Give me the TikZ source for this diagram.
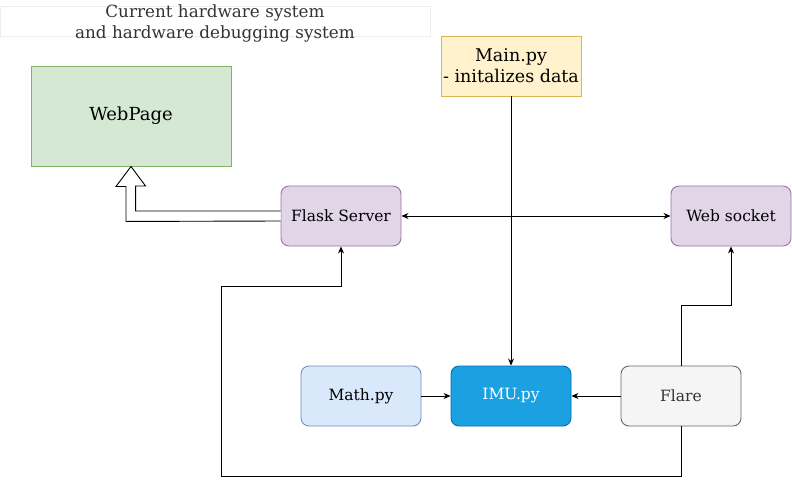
\documentclass[tikz,border=0pt]{standalone}
\usepackage{fontspec}
\setmainfont{DejaVu Serif}
\usetikzlibrary{arrows.meta}

\definecolor{greenfill}{HTML}{D5E8D4}
\definecolor{greenline}{HTML}{82B366}
\definecolor{yellowfill}{HTML}{FFF2CC}
\definecolor{yellowline}{HTML}{D6B656}
\definecolor{purplefill}{HTML}{E1D5E7}
\definecolor{purpleline}{HTML}{9673A6}
\definecolor{bluefill}{HTML}{DAE8FC}
\definecolor{blueline}{HTML}{6C8EBF}
\definecolor{imufill}{HTML}{1BA1E2}
\definecolor{imuline}{HTML}{006EAF}
\definecolor{greyfill}{HTML}{F5F5F5}
\definecolor{greyline}{HTML}{666666}
\definecolor{darktext}{HTML}{333333}

\begin{document}
\begin{tikzpicture}[x=1pt, y=-1pt, line width=0.9pt, >={Stealth[length=7pt,width=6pt]},
    box/.style={draw, rounded corners=8pt, minimum width=120pt, minimum height=60pt,
      inner sep=0pt, font=\fontsize{15.5}{18}\selectfont},
    plain/.style={draw, inner sep=0pt, align=center}]
    \useasboundingbox (0,0) rectangle (792,485);

    % title
    \draw[draw=black!7] (0,6) rectangle (430,36);
    \node[align=center, text=darktext, font=\fontsize{16.8}{21}\selectfont] (title) at (215,23)
      {Current hardware system\\and hardware debugging system};

    \node[plain, fill=greenfill, draw=greenline, minimum width=200pt, minimum height=100pt,
      font=\fontsize{18}{20}\selectfont] (web) at (131,116) {WebPage};
    \node[plain, fill=yellowfill, draw=yellowline, minimum width=140pt, minimum height=60pt,
      font=\fontsize{17.5}{21}\selectfont] (main) at (511,66) {Main.py\\- initalizes data};

    \node[box, fill=purplefill, draw=purpleline] (flask) at (341,216) {Flask Server};
    \node[box, fill=purplefill, draw=purpleline] (socket) at (731,216) {Web socket};
    \node[box, fill=bluefill, draw=blueline] (math) at (361,396) {Math.py};
    \node[box, fill=imufill, draw=imuline, text=white] (imu) at (511,396) {IMU.py};
    \node[box, fill=greyfill, draw=greyline, text=darktext] (flare) at (681,396) {Flare};

    % connectors
    \draw[<->] (flask) -- (socket);
    \draw[->] (main) -- (imu);
    \draw[->] (math) -- (imu);
    \draw[->] (flare) -- (imu);
    \draw[->] (flare.north) -- ++(0,-60) -| (socket.south);
    \draw[->] (flare.south) -- ++(0,50) -- ++(-460,0) -- ++(0,-190) -| (flask.south);

    % hollow arrow to the page
    \draw[fill=white] ([yshift=5pt]flask.west) -- ++(-145,0) -- ++(0,-25) -- ++(10,0)
      -- (web.south) -- ++(-15,20) -- ++(10,0) -- ++(0,35) -- ([yshift=-5pt]flask.west);
\end{tikzpicture}
\end{document}
